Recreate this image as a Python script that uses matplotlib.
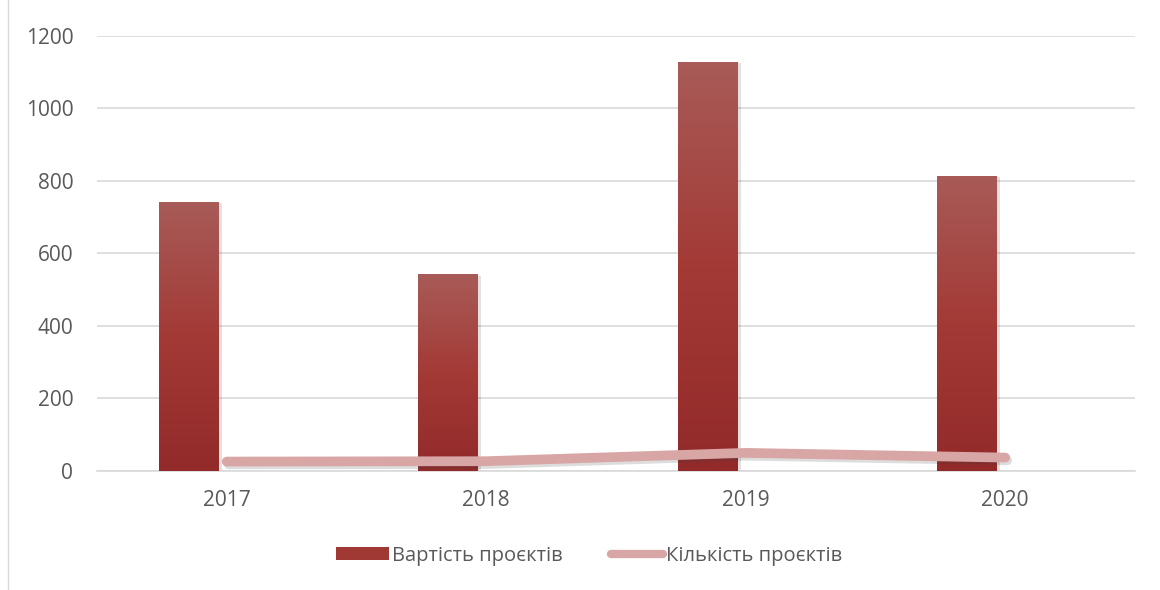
import matplotlib.pyplot as plt
import matplotlib.patheffects as pe
import numpy as np
from matplotlib.patches import Rectangle, Patch
from matplotlib.lines import Line2D
from matplotlib.colors import LinearSegmentedColormap

plt.rcParams['font.family'] = ['Open Sans', 'DejaVu Sans']

years = ['2017', '2018', '2019', '2020']
cost = [742, 543, 1128, 814]      # Вартість проєктів
count = [26, 27, 50, 37]          # Кількість проєктів

fig = plt.figure(figsize=(11.6, 5.9), dpi=100)
ax = fig.add_axes([0.0836, 0.2017, 0.8948, 0.7373])

x = np.arange(len(years))
bars = ax.bar(x - 0.146, cost, width=0.231, color='#9e3430', zorder=2,
              path_effects=[pe.SimplePatchShadow(offset=(2, -1), alpha=0.12), pe.Normal()])

# vertical gradient in each bar, light on top, darker at the bottom
grad = np.linspace(0, 1, 256).reshape(-1, 1)
cmap = LinearSegmentedColormap.from_list('barg', ['#922a2a', '#a33a36', '#a85b58'])
for b in bars:
    bx, by = b.get_x(), b.get_y()
    w, h = b.get_width(), b.get_height()
    im = ax.imshow(grad, cmap=cmap, aspect='auto', origin='lower',
                   extent=[bx, bx + w, by, by + h], zorder=3)
    im.set_clip_path(b)

ax.plot(x, count, color='#d9a6a6', lw=7, solid_capstyle='round', zorder=4,
        path_effects=[pe.SimpleLineShadow(offset=(1.5, -2), alpha=0.18, shadow_color='#444444'), pe.Normal()])

ax.set_xlim(-0.5, 3.5)
ax.set_ylim(0, 1200)
ax.set_yticks(range(0, 1201, 200))
ax.set_xticks(x)
ax.set_xticklabels(years)
ax.grid(axis='y', color='#d9d9d9', lw=1.2, zorder=0)
ax.set_axisbelow(True)
for s in ['top', 'right', 'left']:
    ax.spines[s].set_visible(False)
ax.spines['bottom'].set_color('#d9d9d9')
ax.spines['bottom'].set_linewidth(1.2)
ax.tick_params(length=0, labelsize=15, labelcolor='#595959')
ax.tick_params(axis='x', pad=14)
ax.tick_params(axis='y', pad=17)

# legend
handles = [Patch(facecolor='#a03834', edgecolor='none'),
           Line2D([0], [0], color='#d9a6a6', lw=6, solid_capstyle='round')]
leg = fig.legend(handles, ['Вартість проєктів', 'Кількість проєктів'],
                 loc='center', bbox_to_anchor=(0.508, 0.058), ncol=2, frameon=False,
                 fontsize=14.5, labelcolor='#595959', handlelength=2.6, handletextpad=0.15,
                 columnspacing=2.4, handleheight=0.65)

fig.patches.append(Rectangle((0.007, -0.01), 1.1, 1.1, transform=fig.transFigure,
                             fill=False, edgecolor='#d9d9d9', lw=1))

fig.savefig('out.png', dpi=100)
